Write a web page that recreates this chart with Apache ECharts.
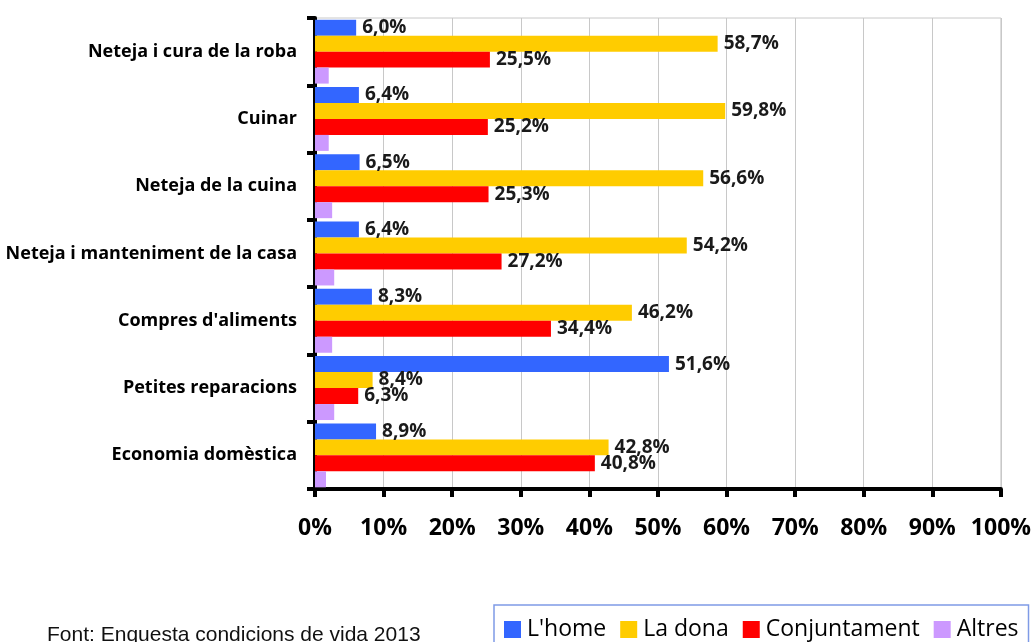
<!DOCTYPE html>
<html>
<head>
<meta charset="utf-8">
<script src="https://cdn.jsdelivr.net/npm/echarts@6/dist/echarts.min.js"></script>
<style>
  html, body { margin: 0; padding: 0; background: #fff; }
  #main { width: 1034px; height: 642px; }
</style>
</head>
<body>
<div id="main"></div>
<script>
// categories (top to bottom)
const categories = [
  'Neteja i cura de la roba',
  'Cuinar',
  'Neteja de la cuina',
  'Neteja i manteniment de la casa',
  "Compres d'aliments",
  'Petites reparacions',
  'Economia domèstica'
]
const seriesNames = ["L'home", 'La dona', 'Conjuntament', 'Altres']
const home = [6.0, 6.4, 6.5, 6.4, 8.3, 51.6, 8.9]
const dona = [58.7, 59.8, 56.6, 54.2, 46.2, 8.4, 42.8]
const conjunt = [25.5, 25.2, 25.3, 27.2, 34.4, 6.3, 40.8]
const altres = [2.0, 2.0, 2.5, 2.8, 2.5, 2.8, 1.6]
const colors = ['#3366ff', '#ffcc00', '#ff0000', '#cc99ff']
const sourceText = 'Font: Enquesta condicions de vida 2013'

const font = 'Open Sans'
const fmt = v => v.toFixed(1).replace('.', ',') + '%'

const mkSeries = (name, data, color, showLabel) => ({
  name,
  type: 'bar',
  data,
  barGap: 0,
  barCategoryGap: '5%',
  itemStyle: { color },
  label: {
    show: showLabel,
    position: 'right',
    distance: 6,
    color: '#1a1a1a',
    fontFamily: font,
    fontWeight: 'bold',
    fontSize: 19,
    formatter: p => fmt(p.value)
  }
})

const main = echarts.init(document.getElementById('main'))
main.setOption({
  backgroundColor: '#ffffff',
  animation: false,
  color: colors,
  title: {
    text: sourceText,
    left: 47,
    top: 625,
    padding: 0,
    textStyle: { fontFamily: 'Liberation Sans', fontWeight: 'normal', fontSize: 21, color: '#111' }
  },
  legend: {
    data: seriesNames,
    left: 494,
    top: 605,
    padding: [13, 10, 12, 10],
    borderColor: '#7f9be6',
    borderWidth: 1.5,
    icon: 'rect',
    itemWidth: 17,
    itemHeight: 17,
    itemGap: 14,
    textStyle: { fontFamily: font, fontSize: 23, color: '#000', padding: [0, 0, 0, 1] }
  },
  grid: {
    left: 315,
    right: 32,
    top: 18,
    bottom: 153,
    show: true,
    borderColor: '#c8c8c8',
    borderWidth: 1
  },
  xAxis: {
    type: 'value',
    min: 0,
    max: 100,
    interval: 10,
    axisLine: { show: true, lineStyle: { color: '#000', width: 4 } },
    axisTick: { show: true, length: 8, lineStyle: { color: '#000', width: 4 } },
    splitLine: { show: true, lineStyle: { color: '#c8c8c8', width: 1 } },
    axisLabel: {
      margin: 28,
      fontFamily: font,
      fontWeight: 'bold',
      fontSize: 23,
      color: '#000',
      formatter: v => v + '%'
    }
  },
  yAxis: {
    type: 'category',
    data: categories,
    inverse: true,
    axisLine: { show: true, lineStyle: { color: '#000', width: 4 } },
    axisTick: { show: true, length: 8, lineStyle: { color: '#000', width: 4 } },
    axisLabel: {
      margin: 18,
      fontFamily: font,
      fontWeight: 'bold',
      fontSize: 18,
      color: '#000'
    }
  },
  series: [
    mkSeries(seriesNames[0], home, colors[0], true),
    mkSeries(seriesNames[1], dona, colors[1], true),
    mkSeries(seriesNames[2], conjunt, colors[2], true),
    mkSeries(seriesNames[3], altres, colors[3], false)
  ]
})
</script>
</body>
</html>
